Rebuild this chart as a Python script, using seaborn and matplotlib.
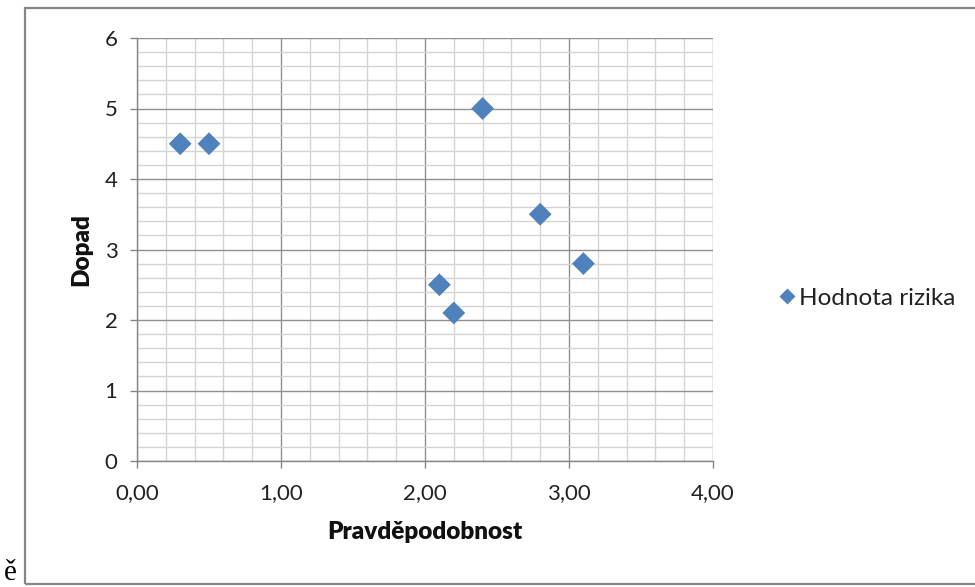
import matplotlib
matplotlib.use("Agg")
import matplotlib.pyplot as plt
import seaborn as sns
import pandas as pd
from matplotlib.ticker import MultipleLocator, FuncFormatter
from matplotlib.patches import Rectangle

# Data
pravdepodobnost = [0.3, 0.5, 2.4, 2.8, 3.1, 2.1, 2.2]
dopad = [4.5, 4.5, 5.0, 3.5, 2.8, 2.5, 2.1]
series_name = "Hodnota rizika"
x_label = "Pravděpodobnost"
y_label = "Dopad"

df = pd.DataFrame({"x": pravdepodobnost, "y": dopad, "s": series_name})

sns.set_theme(style="white")
plt.rcParams["font.family"] = ["Lato", "DejaVu Sans"]

fig = plt.figure(figsize=(9.75, 5.87), dpi=100)
ax = fig.add_axes([137 / 975, 1 - 461 / 587, (713 - 137) / 975, (461 - 38) / 587])

blue = "#4F81BD"
sns.scatterplot(data=df, x="x", y="y", hue="s", palette=[blue], marker="D",
                s=135, edgecolor="none", ax=ax, zorder=3)

ax.set_xlim(0, 4)
ax.set_ylim(0, 6)
ax.xaxis.set_major_locator(MultipleLocator(1))
ax.xaxis.set_minor_locator(MultipleLocator(0.2))
ax.yaxis.set_major_locator(MultipleLocator(1))
ax.yaxis.set_minor_locator(MultipleLocator(0.2))
ax.xaxis.set_major_formatter(FuncFormatter(lambda v, p: f"{v:.2f}".replace(".", ",")))
ax.yaxis.set_major_formatter(FuncFormatter(lambda v, p: f"{v:.0f}"))

ax.grid(which="major", color="#909090", linewidth=1.0, zorder=1)
ax.grid(which="minor", color="#d4d4d4", linewidth=1.0, zorder=0)
ax.set_axisbelow(True)

for sp in ["top", "right"]:
    ax.spines[sp].set_visible(False)
for sp in ["left", "bottom"]:
    ax.spines[sp].set_color("#868686")
    ax.spines[sp].set_linewidth(1.0)

ax.tick_params(which="major", direction="out", length=5, width=1, color="#868686",
               labelsize=16, labelcolor="#222222", left=True, bottom=True)
ax.tick_params(axis="x", which="major", pad=11)
ax.tick_params(axis="y", which="major", pad=9)
ax.tick_params(which="minor", length=0)

ax.set_xlabel(x_label, fontsize=17.5, fontweight="heavy", color="#111111", labelpad=13)
ax.set_ylabel(y_label, fontsize=17.5, fontweight="heavy", color="#111111", labelpad=9)

leg = ax.legend(loc="center left", bbox_to_anchor=(1.073, 0.385), frameon=False,
                fontsize=17.5, handletextpad=-0.3, handlelength=1.6,
                markerscale=0.72, borderpad=0)
for t in leg.get_texts():
    t.set_color("#222222")

# outer chart frame
fig.patches.append(Rectangle((25 / 975, 3 / 587), 1.0, (584 - 8) / 587,
                             transform=fig.transFigure, fill=False,
                             edgecolor="#878787", linewidth=1.6, clip_on=False))

fig.text(4 / 975, 1 / 587, "ě", fontsize=21, family=["Liberation Serif", "DejaVu Serif"],
         color="#000000", ha="left", va="bottom")

fig.savefig("out.png", dpi=100)
